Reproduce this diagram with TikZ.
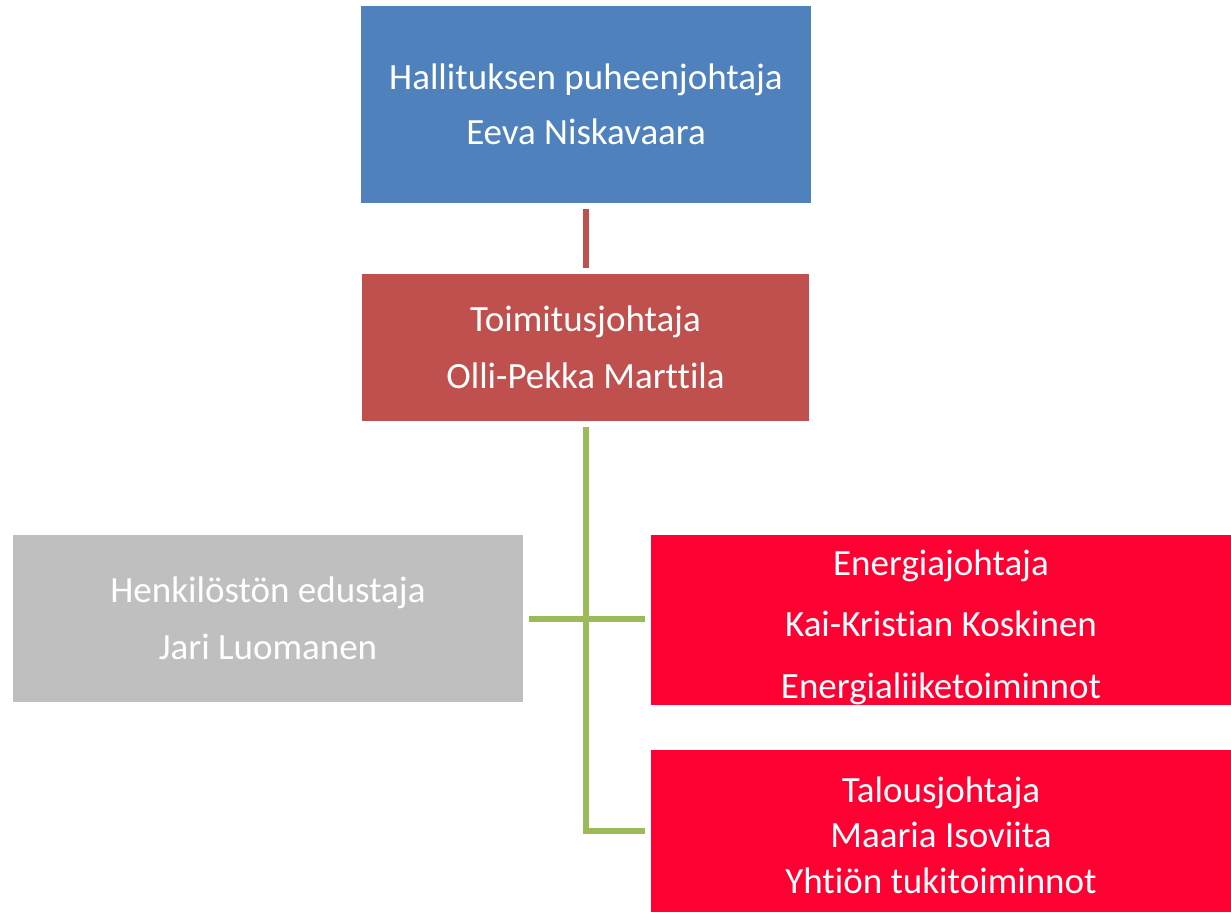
\documentclass[tikz,border=0pt]{standalone}
\usepackage{fontspec}
\setmainfont[Ligatures={NoCommon}]{Carlito}
\definecolor{cblue}{HTML}{4F81BD}
\definecolor{cred}{HTML}{C0504D}
\definecolor{cgrey}{HTML}{BFBFBF}
\definecolor{cbright}{HTML}{FF0033}
\definecolor{cgreen}{HTML}{9BBB59}
\begin{document}
\begin{tikzpicture}[x=1pt,y=-1pt,
  box/.style={rectangle, inner sep=0pt, outer sep=0pt, text=white, align=center, font=\fontsize{37}{55}\selectfont},
  boxtext/.style={text=white, align=center, inner sep=0pt},
  link/.style={line width=6pt}]
\useasboundingbox (0,0) rectangle (1231,913);
\node[box, fill=cblue, minimum width=450pt, minimum height=197pt] (chair) at (586,104.5) {Hallituksen puheenjohtaja\\Eeva Niskavaara};
\node[box, fill=cred, minimum width=447pt, minimum height=147pt, font=\fontsize{37}{57}\selectfont] (ceo) at (585.5,347.5) {Toimitusjohtaja\\Olli-Pekka Marttila};
\node[box, fill=cgrey, minimum width=510pt, minimum height=167pt, font=\fontsize{37}{57}\selectfont] (staff) at (268,618.5) {Henkilöstön edustaja\\Jari Luomanen};
\node[box, fill=cbright, minimum width=580pt, minimum height=170pt,
  label={[boxtext, font=\fontsize{37}{61.5}\selectfont, yshift=-7pt]center:Energiajohtaja\\Kai-Kristian Koskinen\\Energialiiketoiminnot}] (energy) at (941,620) {};
\node[box, fill=cbright, minimum width=580pt, minimum height=162pt,
  label={[boxtext, font=\fontsize{37}{45.5}\selectfont, yshift=-4pt]center:Talousjohtaja\\Maaria Isoviita\\Yhtiön tukitoiminnot}] (cfo) at (941,831) {};
\coordinate (j) at (586,619);
\coordinate (b) at (586,831);
\draw[link, cred] ([yshift=-6pt]chair.south -| j) -- ([yshift=6pt]ceo.north -| j);
\draw[link, cgreen] ([yshift=-6pt]ceo.south -| j) -- (b) -- ([xshift=-6pt]cfo.west |- b);
\draw[link, cgreen] ([xshift=6pt]staff.east |- j) -- (j) -- ([xshift=-6pt]energy.west |- j);
\end{tikzpicture}
\end{document}
